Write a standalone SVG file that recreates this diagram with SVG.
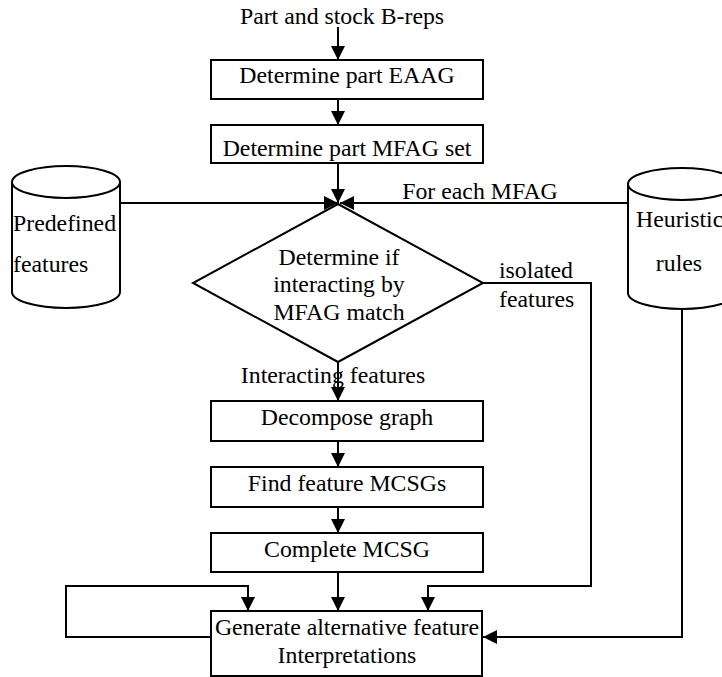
<svg xmlns="http://www.w3.org/2000/svg" width="722" height="677" viewBox="0 0 722 677" font-family="'Liberation Serif', 'Times New Roman', Times, serif">
  <style>
    text { font-family: 'Liberation Serif', 'Times New Roman', Times, serif; font-size: 23.8px; fill: #000; }
    .c { text-anchor: middle; }
    .box { fill: #fff; stroke: #000; stroke-width: 2; }
    .shape { fill: #fff; stroke: #000; stroke-width: 2; }
    .line { fill: none; stroke: #000; stroke-width: 2; }
  </style>
  <defs>
    <marker id="arrow" viewBox="0 0 14 14" refX="14" refY="7" markerWidth="14" markerHeight="14" markerUnits="userSpaceOnUse" orient="auto">
      <path d="M0,0 L14,7 L0,14 Z" fill="#000"/>
    </marker>
  </defs>

  <rect width="722" height="677" fill="#fff"/>

  <!-- connectors -->
  <g id="connectors">
    <path class="line" d="M338,27 V60" marker-end="url(#arrow)"/>
    <path class="line" d="M338,99 V125" marker-end="url(#arrow)"/>
    <path class="line" d="M338,163 V203" marker-end="url(#arrow)"/>
    <path class="line" d="M120,203 H338" marker-end="url(#arrow)"/>
    <path class="line" d="M628,203 H340" marker-end="url(#arrow)"/>
    <path class="line" d="M338,362 V401" marker-end="url(#arrow)"/>
    <path class="line" d="M338,441 V467" marker-end="url(#arrow)"/>
    <path class="line" d="M338,507 V533" marker-end="url(#arrow)"/>
    <path class="line" d="M338,572 V611" marker-end="url(#arrow)"/>
    <path class="line" d="M483,283 H591 V586 H428 V611" marker-end="url(#arrow)"/>
    <path class="line" d="M211,637 H66 V586 H248 V611" marker-end="url(#arrow)"/>
    <path class="line" d="M682,309 V637 H483" marker-end="url(#arrow)"/>
  </g>

  <!-- input label -->
  <g id="input">
    <text class="c" x="342" y="24">Part and stock B-reps</text>
  </g>

  <g id="eaag">
    <rect class="box" x="211" y="60" width="272" height="39"/>
    <text class="c" x="347" y="83">Determine part EAAG</text>
  </g>

  <g id="mfag-set">
    <rect class="box" x="211" y="125" width="272" height="38"/>
    <text class="c" x="347" y="156">Determine part MFAG set</text>
  </g>

  <g id="predefined">
    <path class="shape" d="M12,182 V292 A54,16 0 0 0 120,292 V182 A54,16 0 0 0 12,182 Z"/>
    <path class="line" d="M12,182 A54,16 0 0 0 120,182"/>
    <text x="13" y="231">Predefined</text>
    <text x="13" y="272">features</text>
  </g>

  <g id="heuristic">
    <path class="shape" d="M628,184 V293 A54,16 0 0 0 736,293 V184 A54,16 0 0 0 628,184 Z"/>
    <path class="line" d="M628,184 A54,16 0 0 0 736,184"/>
    <text x="636" y="227">Heuristic</text>
    <text class="c" x="679" y="271">rules</text>
  </g>

  <g id="for-each-label">
    <text class="c" x="480" y="199">For each MFAG</text>
  </g>

  <g id="decision">
    <path class="shape" d="M338,204 L483,283 L338,362 L193,283 Z"/>
    <text class="c" x="339" y="265">Determine if</text>
    <text class="c" x="339" y="292">interacting by</text>
    <text class="c" x="339" y="320">MFAG match</text>
  </g>

  <g id="isolated-label">
    <text x="499" y="278">isolated</text>
    <text x="499" y="307">features</text>
  </g>

  <g id="interacting-label">
    <text class="c" x="333" y="383">Interacting features</text>
  </g>

  <g id="decompose">
    <rect class="box" x="211" y="401" width="272" height="40"/>
    <text class="c" x="347" y="425">Decompose graph</text>
  </g>

  <g id="find-mcsgs">
    <rect class="box" x="211" y="467" width="272" height="40"/>
    <text class="c" x="347" y="491">Find feature MCSGs</text>
  </g>

  <g id="complete-mcsg">
    <rect class="box" x="211" y="533" width="272" height="39"/>
    <text class="c" x="347" y="557">Complete MCSG</text>
  </g>

  <g id="generate">
    <rect class="box" x="211" y="611" width="271" height="65"/>
    <text class="c" x="347" y="635">Generate alternative feature</text>
    <text class="c" x="347" y="663">Interpretations</text>
  </g>
</svg>
